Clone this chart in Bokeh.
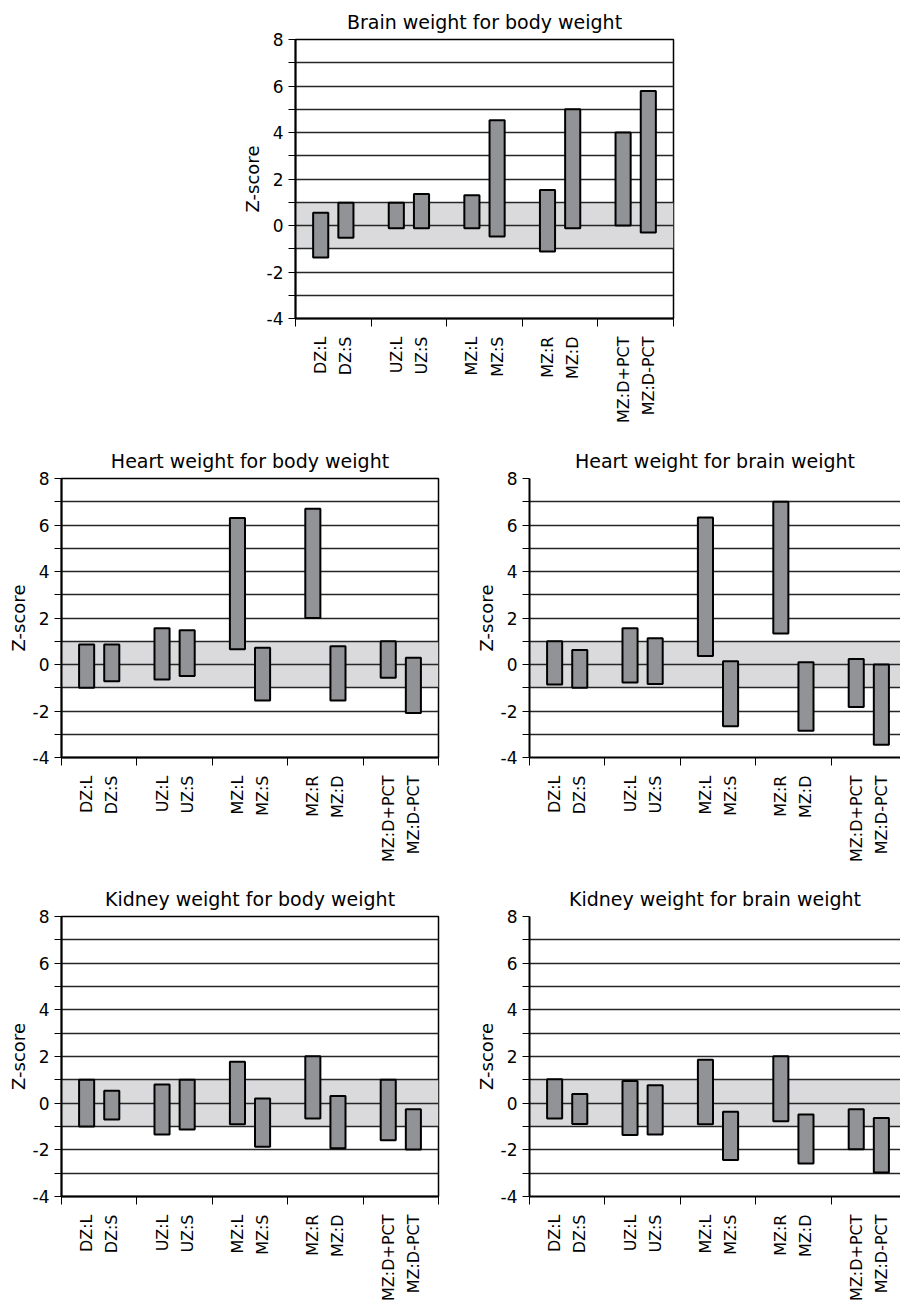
import math
from bokeh.plotting import figure
from bokeh.models import FixedTicker, BoxAnnotation, Range1d, Spacer, ColumnDataSource
from bokeh.layouts import column, row
from bokeh.embed import file_html
from bokeh.resources import INLINE

# ---------------- data ----------------
categories = ["DZ:L", "DZ:S", "UZ:L", "UZ:S", "MZ:L", "MZ:S",
              "MZ:R", "MZ:D", "MZ:D+PCT", "MZ:D-PCT"]

brain_body_low = [-1.38, -0.53, -0.12, -0.12, -0.12, -0.47, -1.12, -0.12, 0.0, -0.30]
brain_body_high = [0.55, 0.98, 0.98, 1.35, 1.30, 4.53, 1.53, 5.00, 4.00, 5.78]

heart_body_low = [-1.00, -0.72, -0.65, -0.49, 0.66, -1.55, 2.00, -1.55, -0.57, -2.09]
heart_body_high = [0.86, 0.86, 1.56, 1.47, 6.30, 0.72, 6.70, 0.79, 1.00, 0.29]

heart_brain_low = [-0.86, -1.00, -0.77, -0.84, 0.37, -2.66, 1.33, -2.85, -1.83, -3.45]
heart_brain_high = [1.00, 0.62, 1.56, 1.13, 6.32, 0.14, 7.00, 0.10, 0.24, 0.00]

kidney_body_low = [-1.00, -0.70, -1.34, -1.13, -0.90, -1.87, -0.66, -1.93, -1.59, -1.99]
kidney_body_high = [1.00, 0.53, 0.80, 1.00, 1.77, 0.20, 2.01, 0.31, 1.00, -0.26]

kidney_brain_low = [-0.66, -0.89, -1.36, -1.34, -0.90, -2.44, -0.77, -2.59, -1.97, -2.97]
kidney_brain_high = [1.03, 0.39, 0.95, 0.77, 1.86, -0.37, 2.01, -0.49, -0.26, -0.64]

y_major = [-4, -2, 0, 2, 4, 6, 8]
y_major_labels = ["-4", "-2", "0", "2", "4", "6", "8"]
y_minor = [-3, -1, 1, 3, 5, 7]
normal_band = (-1, 1)

# ---------------- style ----------------
FONT = "DejaVu Sans"
BAR_FILL = "#929397"
BAND_FILL = "#dadadc"
GRID = "#262626"

n_groups = len(categories) // 2
x_pos = [3 * (i // 2) + 1 + (i % 2) for i in range(len(categories))]
group_edges = [3 * g for g in range(n_groups + 1)]
x_full = 3 * n_groups


def make_chart(title, lows, highs, frame_w, full_w, ml, mr, mt, mb, fh,
               outline=True, title_offset=0):
    x_end = x_full * frame_w / full_w
    p = figure(frame_width=frame_w, frame_height=fh,
               min_border_left=ml, min_border_right=mr,
               min_border_top=mt, min_border_bottom=mb,
               x_range=Range1d(0, x_end), y_range=Range1d(-4, 8),
               toolbar_location=None, output_backend="svg",
               background_fill_color="white", border_fill_color="white")
    p.title.text = title
    p.title.align = "center"
    p.title.text_font = FONT
    p.title.text_font_size = "19px"
    p.title.text_font_style = "normal"
    p.title.text_color = "black"
    p.title.offset = title_offset
    p.title.standoff = 14

    band = BoxAnnotation(bottom=normal_band[0], top=normal_band[1],
                         fill_color=BAND_FILL, fill_alpha=1.0,
                         line_color=None, level="image")
    p.add_layout(band)

    src = ColumnDataSource(dict(x=x_pos, low=lows, high=highs, cat=categories))
    p.vbar(x="x", bottom="low", top="high", width=0.6, source=src,
           fill_color=BAR_FILL, line_color="black", line_width=2)

    # y axis
    yt = FixedTicker(ticks=y_major, minor_ticks=y_minor)
    p.yaxis.ticker = yt
    p.yaxis.major_label_overrides = {float(t): s for t, s in zip(y_major, y_major_labels)}
    p.yaxis.axis_label = "Z-score"
    p.yaxis.axis_label_text_font = FONT
    p.yaxis.axis_label_text_font_size = "18px"
    p.yaxis.axis_label_text_font_style = "normal"
    p.yaxis.axis_label_text_color = "black"
    p.yaxis.axis_label_standoff = 1
    p.yaxis.major_label_text_font = FONT
    p.yaxis.major_label_text_font_size = "17px"
    p.yaxis.major_label_text_color = "black"
    p.yaxis.major_label_standoff = 5
    p.yaxis.major_tick_out = 7
    p.yaxis.major_tick_in = 0
    p.yaxis.minor_tick_out = 7
    p.yaxis.minor_tick_in = 0
    p.yaxis.axis_line_width = 2
    p.yaxis.axis_line_color = "black"
    p.yaxis.major_tick_line_color = "black"
    p.yaxis.minor_tick_line_color = "black"

    # x axis
    xt = FixedTicker(ticks=x_pos, minor_ticks=group_edges)
    p.xaxis.ticker = xt
    p.xaxis.major_label_overrides = {float(x): c for x, c in zip(x_pos, categories)}
    p.xaxis.major_label_orientation = math.pi / 2
    p.xaxis.major_label_text_font = FONT
    p.xaxis.major_label_text_font_size = "16px"
    p.xaxis.major_label_text_color = "black"
    p.xaxis.major_label_standoff = 10
    p.xaxis.axis_label_standoff = 0
    p.xaxis.major_tick_out = 0
    p.xaxis.major_tick_in = 0
    p.xaxis.minor_tick_out = 8
    p.xaxis.minor_tick_in = 0
    p.xaxis.minor_tick_line_color = "black"
    p.xaxis.axis_line_width = 2
    p.xaxis.axis_line_color = "black"

    # grid
    p.xgrid.visible = False
    p.ygrid.grid_line_color = GRID
    p.ygrid.grid_line_width = 1.3
    p.ygrid.minor_grid_line_color = GRID
    p.ygrid.minor_grid_line_width = 1.3

    if outline:
        p.outline_line_color = "black"
        p.outline_line_width = 1.5
        p.outline_line_alpha = 1.0
    else:
        p.outline_line_color = None
    return p


top = make_chart("Brain weight for body weight", brain_body_low, brain_body_high,
                 378, 378, 60, 20, 39, 120, 279)
ml = make_chart("Heart weight for body weight", heart_body_low, heart_body_high,
                377, 377, 61, 30, 40, 119, 279)
mr = make_chart("Heart weight for brain weight", heart_brain_low, heart_brain_high,
                371, 377, 61, 0, 40, 119, 279, outline=False, title_offset=4)
bl = make_chart("Kidney weight for body weight", kidney_body_low, kidney_body_high,
                377, 377, 61, 30, 40, 104, 280)
br = make_chart("Kidney weight for brain weight", kidney_brain_low, kidney_brain_high,
                371, 377, 61, 0, 40, 104, 280, outline=False, title_offset=4)

layout = column(row(Spacer(width=235, height=438), top),
                row(ml, mr),
                row(bl, br))

open("out.html", "w").write(file_html(layout, INLINE))
